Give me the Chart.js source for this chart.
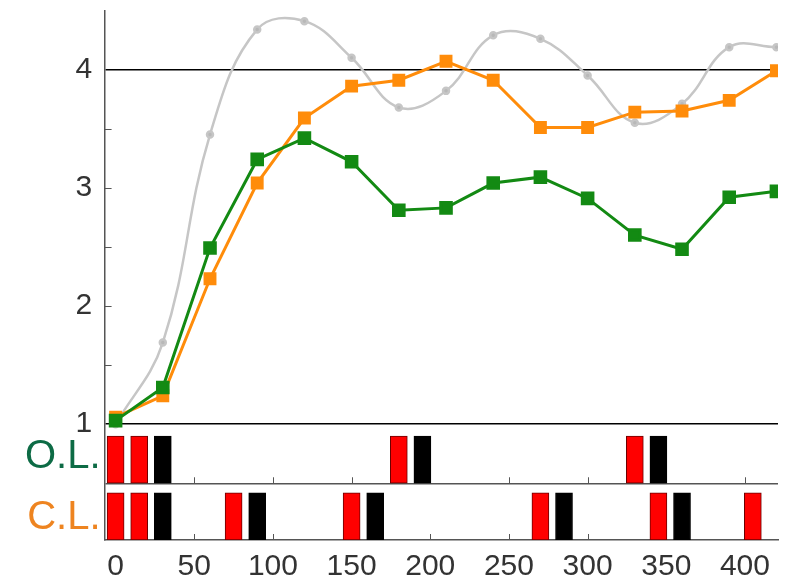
<!DOCTYPE html>
<html>
<head>
<meta charset="utf-8">
<script src="https://cdn.jsdelivr.net/npm/chart.js@4"></script>
<style>
  html, body { margin: 0; padding: 0; background: #fff; }
  #wrap { width: 798px; height: 581px; }
</style>
</head>
<body>
<div id="wrap"><canvas id="trendChart" width="798" height="581"></canvas></div>
<script>
// days of each measurement
const days = [0, 30, 60, 90, 120, 150, 180, 210, 240, 270, 300, 330, 360, 390, 420];

// green (O.L.), orange (C.L.) and the grey reference curve
const olValues  = [1.03, 1.31, 2.49, 3.24, 3.42, 3.22, 2.81, 2.83, 3.04, 3.09, 2.91, 2.60, 2.48, 2.92, 2.97];
const clValues  = [1.06, 1.24, 2.23, 3.04, 3.59, 3.86, 3.91, 4.07, 3.91, 3.51, 3.51, 3.64, 3.65, 3.74, 3.99];
const refValues = [1.00, 1.69, 3.45, 4.34, 4.41, 4.10, 3.68, 3.82, 4.29, 4.26, 3.95, 3.55, 3.71, 4.19, 4.19];

// event days shown in the two strips under the chart
const olRedDays   = [0, 15, 180, 330];
const olBlackDays = [30, 195, 345];
const clRedDays   = [0, 15, 75, 150, 270, 345, 405];
const clBlackDays = [30, 90, 165, 285, 360];

// strip ranges on the y scale
const olStrip = [0.5, 0.9];
const clStrip = [0.02, 0.42];

const xTicks = [0, 50, 100, 150, 200, 250, 300, 350, 400];
// first and last entries are blank so that they take no room
const yTickValues = [0.02, 0.21, 0.5, 0.72, 1, 1.5, 2, 2.5, 3, 3.5, 4, 4.5];
const yTickLabels = ['', 'C.L.', '', 'O.L.', '1 ', '', '2 ', '', '3 ', '', '4 ', ''];

const FONT = '"Liberation Sans", Arial, sans-serif';

function series(values) {
  return days.map((d, i) => ({x: d, y: values[i]}));
}

function strip(dayList, range) {
  return dayList.map(d => ({x: d, y: range}));
}

// small inward tick marks, like the original plot
const innerTicks = {
  id: 'innerTicks',
  beforeDatasetsDraw(chart) {
    const {ctx, chartArea, scales: {x, y}} = chart;
    ctx.save();
    ctx.strokeStyle = '#555';
    ctx.lineWidth = 1;
    ctx.beginPath();
    [1.5, 2, 2.5, 3, 3.5].forEach(v => {
      const py = Math.round(y.getPixelForValue(v)) + 0.5;
      ctx.moveTo(chartArea.left, py);
      ctx.lineTo(chartArea.left + 7, py);
    });
    [olStrip[0], clStrip[0]].forEach(base => {
      const py = y.getPixelForValue(base);
      xTicks.slice(1).forEach(v => {
        const px = Math.round(x.getPixelForValue(v)) + 0.5;
        ctx.moveTo(px, py);
        ctx.lineTo(px, py - 6);
      });
    });
    ctx.stroke();
    ctx.restore();
  }
};

function renderChart() {
  const barStyle = {
    type: 'bar',
    grouped: false,
    barThickness: 17,
    borderWidth: 1,
    borderSkipped: false
  };

  const data = {
    datasets: [
      {
        type: 'line',
        label: 'O.L.',
        data: series(olValues),
        borderColor: '#138a13',
        backgroundColor: '#138a13',
        borderWidth: 3,
        pointStyle: 'rect',
        pointRadius: 7.5,
        tension: 0,
        order: 1
      },
      {
        type: 'line',
        label: 'C.L.',
        data: series(clValues),
        borderColor: '#ff8c0a',
        backgroundColor: '#ff8c0a',
        borderWidth: 3,
        pointStyle: 'rect',
        pointRadius: 7,
        tension: 0,
        order: 2
      },
      {
        type: 'line',
        label: 'reference',
        data: series(refValues),
        borderColor: '#c6c6c6',
        backgroundColor: '#b8b8b8',
        borderWidth: 2.5,
        pointRadius: 3,
        tension: 0.4,
        order: 3
      },
      Object.assign({label: 'O.L. red', data: strip(olRedDays, olStrip), backgroundColor: '#ff0000', borderColor: '#6b0000'}, barStyle),
      Object.assign({label: 'O.L. black', data: strip(olBlackDays, olStrip), backgroundColor: '#000', borderColor: '#000'}, barStyle),
      Object.assign({label: 'C.L. red', data: strip(clRedDays, clStrip), backgroundColor: '#ff0000', borderColor: '#6b0000'}, barStyle),
      Object.assign({label: 'C.L. black', data: strip(clBlackDays, clStrip), backgroundColor: '#000', borderColor: '#000'}, barStyle)
    ]
  };

  const config = {
    data: data,
    options: {
      responsive: false,
      animation: false,
      // the x axis reserves tick padding twice, the negative bottom takes one back
      layout: {padding: {top: 10, right: 20, left: 21, bottom: -13}},
      plugins: {legend: {display: false}, tooltip: {enabled: false}},
      scales: {
        x: {
          type: 'linear',
          offset: false,
          min: -7,
          max: 421,
          afterBuildTicks: scale => { scale.ticks = xTicks.map(v => ({value: v})); },
          grid: {display: false, drawTicks: false},
          border: {display: true, color: '#555', width: 1.5},
          ticks: {
            color: '#333',
            padding: 12,
            maxRotation: 0,
            autoSkip: false,
            font: {family: FONT, size: 30, lineHeight: 1}
          }
        },
        y: {
          type: 'linear',
          min: 0.02,
          max: 4.5,
          afterBuildTicks: scale => { scale.ticks = yTickValues.map(v => ({value: v})); },
          border: {display: true, color: '#555', width: 1.5},
          grid: {
            drawTicks: false,
            lineWidth: 1.5,
            color: ctx => {
              const v = ctx.tick ? ctx.tick.value : null;
              if (v === 4 || v === 1) return '#000';
              if (v === 0.5) return '#555';
              return 'rgba(0,0,0,0)';
            }
          },
          ticks: {
            padding: 4,
            autoSkip: false,
            callback: (value, i) => yTickLabels[i],
            color: ctx => {
              const v = ctx.tick ? ctx.tick.value : null;
              if (v === 0.72) return '#0d6b45';
              if (v === 0.21) return '#ee8420';
              return '#333';
            },
            font: ctx => {
              const v = ctx.tick ? ctx.tick.value : 1;
              if (v === 0.02 || v === 4.5) return {family: FONT, size: 1};
              return {family: FONT, size: v < 1 ? 40 : 30};
            }
          }
        }
      }
    },
    plugins: [innerTicks]
  };

  new Chart(document.getElementById('trendChart'), config);
}

renderChart();
</script>
</body>
</html>
